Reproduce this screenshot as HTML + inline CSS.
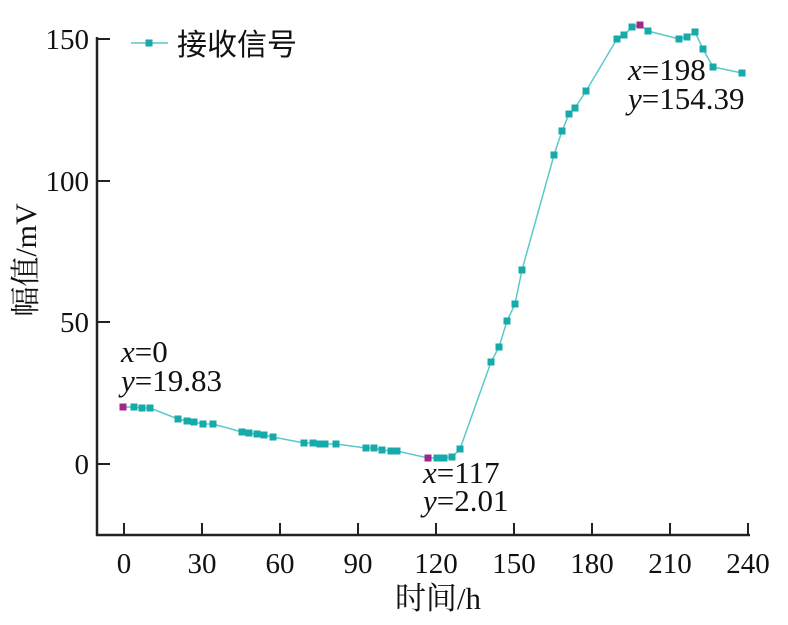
<!DOCTYPE html>
<html><head><meta charset="utf-8"><style>
html,body{margin:0;padding:0;background:#fff;}
svg text{font-family:"Liberation Serif","Noto Serif CJK SC",serif;fill:#111;}
</style></head><body>
<svg width="788" height="620" viewBox="0 0 788 620" xmlns="http://www.w3.org/2000/svg">
<g stroke="#222" stroke-width="2.5" fill="none">
<path d="M97,37 V535 H750"/>
</g>
<g stroke="#222" stroke-width="2">
<path d="M97,39 h13 M97,181 h13 M97,322 h13 M97,464 h13"/>
<path d="M124,535 v-12 M202,535 v-12 M280,535 v-12 M358,535 v-12 M436,535 v-12 M514,535 v-12 M592,535 v-12 M670,535 v-12 M748,535 v-12"/>
</g>
<g font-size="29" text-anchor="end">
<text x="89" y="49">150</text><text x="89" y="191">100</text><text x="89" y="332">50</text><text x="89" y="474">0</text>
</g>
<g font-size="29" text-anchor="middle">
<text x="124" y="573">0</text><text x="202" y="573">30</text><text x="280" y="573">60</text><text x="358" y="573">90</text><text x="436" y="573">120</text><text x="514" y="573">150</text><text x="592" y="573">180</text><text x="670" y="573">210</text><text x="748" y="573">240</text>
</g>
<text x="438" y="609" font-size="31" text-anchor="middle">时间/h</text>
<text transform="translate(36,260) rotate(-90)" font-size="30" text-anchor="middle">幅值/mV</text>
<polyline fill="none" stroke="#5cc8c8" stroke-width="1.5" points="123,407 134,407 142,408 150,408 178,419 187,421 194,422 203,424 213,424 242,432 249,433 257,434 264,435 273,437 304,443 313,443 320,444 325,444 336,444 366,448 374,448 382,450 391,451 397,451 428,458 437,458 444,458 452,457 460,449 491,362 499,347 507,321 515,304 522,270 554,155 562,131 569,114 575,108 586,91 617,39 624,35 632,27 640,25 648,31 679,39 687,37 695,32 703,49 713,67 742,73"/>
<g fill="#17aaaa">
<rect x="130.5" y="403.5" width="7" height="7"/><rect x="138.5" y="404.5" width="7" height="7"/><rect x="146.5" y="404.5" width="7" height="7"/><rect x="174.5" y="415.5" width="7" height="7"/><rect x="183.5" y="417.5" width="7" height="7"/><rect x="190.5" y="418.5" width="7" height="7"/><rect x="199.5" y="420.5" width="7" height="7"/><rect x="209.5" y="420.5" width="7" height="7"/><rect x="238.5" y="428.5" width="7" height="7"/><rect x="245.5" y="429.5" width="7" height="7"/><rect x="253.5" y="430.5" width="7" height="7"/><rect x="260.5" y="431.5" width="7" height="7"/><rect x="269.5" y="433.5" width="7" height="7"/><rect x="300.5" y="439.5" width="7" height="7"/><rect x="309.5" y="439.5" width="7" height="7"/><rect x="316.5" y="440.5" width="7" height="7"/><rect x="321.5" y="440.5" width="7" height="7"/><rect x="332.5" y="440.5" width="7" height="7"/><rect x="362.5" y="444.5" width="7" height="7"/><rect x="370.5" y="444.5" width="7" height="7"/><rect x="378.5" y="446.5" width="7" height="7"/><rect x="387.5" y="447.5" width="7" height="7"/><rect x="393.5" y="447.5" width="7" height="7"/><rect x="433.5" y="454.5" width="7" height="7"/><rect x="440.5" y="454.5" width="7" height="7"/><rect x="448.5" y="453.5" width="7" height="7"/><rect x="456.5" y="445.5" width="7" height="7"/><rect x="487.5" y="358.5" width="7" height="7"/><rect x="495.5" y="343.5" width="7" height="7"/><rect x="503.5" y="317.5" width="7" height="7"/><rect x="511.5" y="300.5" width="7" height="7"/><rect x="518.5" y="266.5" width="7" height="7"/><rect x="550.5" y="151.5" width="7" height="7"/><rect x="558.5" y="127.5" width="7" height="7"/><rect x="565.5" y="110.5" width="7" height="7"/><rect x="571.5" y="104.5" width="7" height="7"/><rect x="582.5" y="87.5" width="7" height="7"/><rect x="613.5" y="35.5" width="7" height="7"/><rect x="620.5" y="31.5" width="7" height="7"/><rect x="628.5" y="23.5" width="7" height="7"/><rect x="644.5" y="27.5" width="7" height="7"/><rect x="675.5" y="35.5" width="7" height="7"/><rect x="683.5" y="33.5" width="7" height="7"/><rect x="691.5" y="28.5" width="7" height="7"/><rect x="699.5" y="45.5" width="7" height="7"/><rect x="709.5" y="63.5" width="7" height="7"/><rect x="738.5" y="69.5" width="7" height="7"/>
</g>
<g fill="#a0288c">
<rect x="119.5" y="403.5" width="7" height="7"/><rect x="424.5" y="454.5" width="7" height="7"/><rect x="636.5" y="21.5" width="7" height="7"/>
</g>
<line x1="131" y1="43" x2="168" y2="43" stroke="#5cc8c8" stroke-width="1.5"/>
<rect x="145.5" y="39.5" width="7" height="7" fill="#17aaaa"/>
<text x="177" y="55" font-size="30" style="font-family:'Liberation Sans','Noto Sans CJK SC',sans-serif">接收信号</text>
<g font-size="31">
<text x="121" y="362"><tspan font-style="italic">x</tspan>=0</text>
<text x="121" y="391"><tspan font-style="italic">y</tspan>=19.83</text>
<text x="423" y="483"><tspan font-style="italic">x</tspan>=117</text>
<text x="423" y="511"><tspan font-style="italic">y</tspan>=2.01</text>
<text x="628" y="80"><tspan font-style="italic">x</tspan>=198</text>
<text x="628" y="109"><tspan font-style="italic">y</tspan>=154.39</text>
</g>
</svg>
</body></html>
